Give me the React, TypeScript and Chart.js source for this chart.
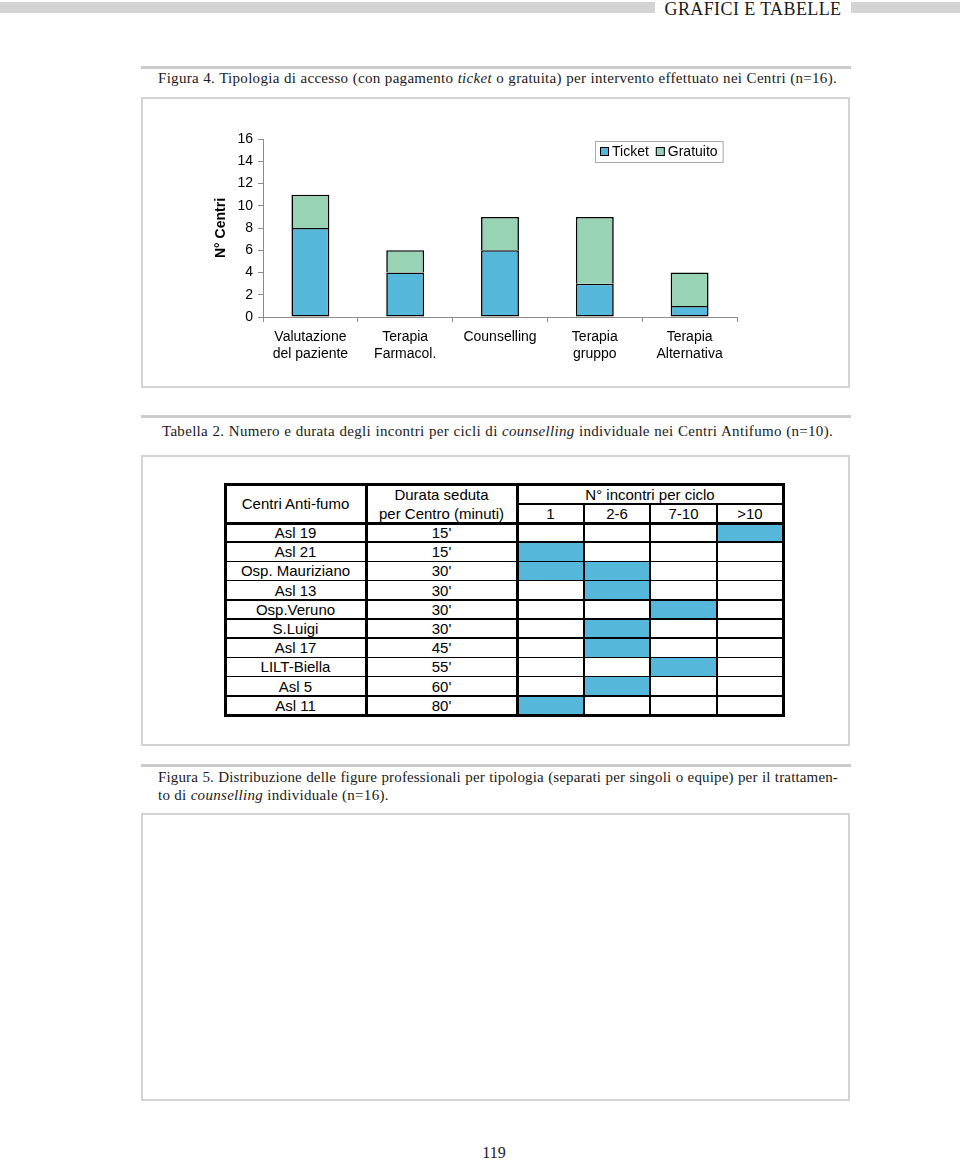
import React, { useEffect, useRef } from "react";
import { Chart, registerables } from "chart.js";

Chart.register(...registerables);

// ---- Figure 4 data ----
const categories: string[][] = [
  ["Valutazione", "del paziente"],
  ["Terapia", "Farmacol."],
  ["Counselling"],
  ["Terapia", "gruppo"],
  ["Terapia", "Alternativa"],
];
const seriesNames = ["Ticket", "Gratuito"];
const ticketValues = [8, 4, 6, 3, 1];
const gratuitoValues = [3, 2, 3, 6, 3];
const yAxisTitle = "N° Centri";
const yMin = 0;
const yMax = 16;
const yStep = 2;

// ---- Tabella 2 data ----
const centres = [
  "Asl 19",
  "Asl 21",
  "Osp. Mauriziano",
  "Asl 13",
  "Osp.Veruno",
  "S.Luigi",
  "Asl 17",
  "LILT-Biella",
  "Asl 5",
  "Asl 11",
];
const durations = ["15'", "15'", "30'", "30'", "30'", "30'", "45'", "55'", "60'", "80'"];
const cycleBands = ["1", "2-6", "7-10", ">10"];
const cycleMarks: number[][] = [[3], [0], [0, 1], [1], [2], [1], [1], [2], [1], [0]];

// ---- captions ----
const headerText = "GRAFICI E TABELLE";
const pageNumber = "119";

const BLUE = "#55b8db";
const GREEN = "#98d3b6";
const SANS = "'Liberation Sans', Arial, sans-serif";
const SERIF = "'Liberation Serif', 'Times New Roman', serif";

const boxLegend = {
  id: "boxLegend",
  afterDraw(chart: any) {
    const ctx = chart.ctx as CanvasRenderingContext2D;
    ctx.save();
    ctx.font = `14px ${SANS}`;
    const colors = [BLUE, GREEN];
    const x0 = 454;
    const y0 = 44;
    const h = 21;
    let w = 5;
    seriesNames.forEach((n, i) => {
      w += 9 + 3 + ctx.measureText(n).width + (i < seriesNames.length - 1 ? 7 : 5);
    });
    ctx.fillStyle = "#ffffff";
    ctx.fillRect(x0, y0, w, h);
    ctx.strokeStyle = "#a8a8a8";
    ctx.lineWidth = 1;
    ctx.strokeRect(x0 + 0.5, y0 + 0.5, w, h);
    let x = x0 + 5;
    const cy = y0 + h / 2 + 0.5;
    seriesNames.forEach((n, i) => {
      ctx.fillStyle = colors[i];
      ctx.fillRect(x, cy - 5, 9, 9);
      ctx.strokeStyle = "#000";
      ctx.strokeRect(x + 0.5, cy - 4.5, 8, 8);
      x += 12;
      ctx.fillStyle = "#000";
      ctx.textBaseline = "middle";
      ctx.textAlign = "left";
      ctx.fillText(n, x, cy);
      x += ctx.measureText(n).width + 7;
    });
    ctx.restore();
  },
};

function BarChart() {
  const ref = useRef<HTMLCanvasElement | null>(null);
  useEffect(() => {
    if (!ref.current) return;
    const chart = new Chart(ref.current, {
      type: "bar",
      data: {
        labels: categories,
        datasets: [
          {
            label: seriesNames[0],
            data: ticketValues,
            backgroundColor: BLUE,
            borderColor: "#000",
            borderWidth: { left: 1.6, right: 1.6, top: 1.6, bottom: 1.6 },
            borderSkipped: false,
          },
          {
            label: seriesNames[1],
            data: gratuitoValues,
            backgroundColor: GREEN,
            borderColor: "#000",
            borderWidth: { left: 1.6, right: 1.6, top: 1.6, bottom: 0 },
            borderSkipped: false,
          },
        ],
      },
      options: {
        responsive: false,
        animation: false,
        events: [],
        layout: { padding: { left: 60, right: 113, top: 42, bottom: 0 } },
        datasets: { bar: { categoryPercentage: 1, barPercentage: 0.4 } },
        plugins: { legend: { display: false }, tooltip: { enabled: false } },
        scales: {
          x: {
            stacked: true,
            offset: true,
            afterFit: (s: any) => {
              s.height = 71;
            },
            grid: {
              display: true,
              offset: true,
              drawOnChartArea: false,
              tickLength: 5,
              color: "#8c8c8c",
            },
            border: { display: true, color: "#8c8c8c", width: 1 },
            ticks: {
              color: "#000",
              font: { family: SANS, size: 14 },
              padding: 6.6,
              maxRotation: 0,
              autoSkip: false,
            },
          },
          y: {
            stacked: true,
            min: yMin,
            max: yMax,
            afterFit: (s: any) => {
              s.width = 62;
            },
            grid: {
              display: true,
              drawOnChartArea: false,
              tickLength: 5,
              color: "#8c8c8c",
            },
            border: { display: true, color: "#8c8c8c", width: 1 },
            ticks: {
              stepSize: yStep,
              color: "#000",
              font: { family: SANS, size: 14 },
              padding: 5,
            },
            title: {
              display: true,
              text: yAxisTitle,
              color: "#000",
              font: { family: SANS, size: 14, weight: "bold" },
              padding: { top: 11.6, bottom: 0 },
            },
          },
        },
      },
      plugins: [boxLegend],
    } as any);
    return () => chart.destroy();
  }, []);
  return (
    <canvas
      ref={ref}
      width={709}
      height={291}
      style={{ position: "absolute", left: 141, top: 97, width: 709, height: 291 }}
    />
  );
}

function DataTable() {
  const colX = [225, 366, 517, 584, 650, 717, 783];
  const top = 484;
  const midHead = 504;
  const headBottom = 523;
  const rowH = 19.2;
  const rowY = (i: number) => headBottom + i * rowH;
  const bottom = rowY(centres.length);
  const els: React.ReactNode[] = [];
  let k = 0;
  const hline = (x1: number, x2: number, y: number, t: number) =>
    els.push(
      <div
        key={k++}
        style={{ position: "absolute", left: x1 - t / 2, top: y - t / 2, width: x2 - x1 + t, height: t, background: "#000" }}
      />
    );
  const vline = (x: number, y1: number, y2: number, t: number) =>
    els.push(
      <div
        key={k++}
        style={{ position: "absolute", left: x - t / 2, top: y1 - t / 2, width: t, height: y2 - y1 + t, background: "#000" }}
      />
    );
  const text = (x1: number, x2: number, y1: number, y2: number, s: string) =>
    els.push(
      <div
        key={k++}
        style={{
          position: "absolute",
          left: x1,
          top: y1,
          width: x2 - x1,
          height: y2 - y1,
          display: "flex",
          alignItems: "center",
          justifyContent: "center",
          font: `15px ${SANS}`,
          color: "#000",
          whiteSpace: "nowrap",
        }}
      >
        {s}
      </div>
    );

  // blue cells
  cycleMarks.forEach((marks, r) => {
    marks.forEach((b) => {
      els.push(
        <div
          key={k++}
          style={{
            position: "absolute",
            left: colX[2 + b],
            top: rowY(r),
            width: colX[3 + b] - colX[2 + b],
            height: rowH,
            background: BLUE,
          }}
        />
      );
    });
  });

  // texts
  text(colX[0], colX[1], top, headBottom, "Centri Anti-fumo");
  text(colX[1], colX[2], top, midHead, "Durata seduta");
  text(colX[1], colX[2], midHead, headBottom, "per Centro (minuti)");
  text(colX[2], colX[6], top, midHead, "N° incontri per ciclo");
  cycleBands.forEach((b, i) => text(colX[2 + i], colX[3 + i], midHead, headBottom, b));
  centres.forEach((c, r) => {
    text(colX[0], colX[1], rowY(r), rowY(r + 1), c);
    text(colX[1], colX[2], rowY(r), rowY(r + 1), durations[r]);
  });

  // row lines
  for (let r = 1; r < centres.length; r++) hline(colX[0], colX[6], rowY(r), 1.6);
  hline(colX[2], colX[6], midHead, 2);
  hline(colX[0], colX[6], headBottom, 3);
  hline(colX[0], colX[6], top, 3);
  hline(colX[0], colX[6], bottom, 3);
  vline(colX[0], top, bottom, 3);
  vline(colX[1], top, bottom, 3);
  vline(colX[2], top, bottom, 3);
  vline(colX[6], top, bottom, 3);
  for (let c = 3; c < 6; c++) vline(colX[c], midHead, bottom, 2.4);

  return <>{els}</>;
}

export default function App() {
  const rule = (y: number) => (
    <div style={{ position: "absolute", left: 141, top: y, width: 710, height: 3, background: "#cbcbcb" }} />
  );
  const box = (y: number, h: number) => (
    <div
      style={{
        position: "absolute",
        left: 141,
        top: y,
        width: 709,
        height: h,
        border: "2px solid #d3d3d3",
        boxSizing: "border-box",
      }}
    />
  );
  const caption = (
    x: number,
    y: number,
    w: number,
    content: React.ReactNode,
    justify = true,
    spacing = 0.3
  ) => (
    <div
      style={{
        position: "absolute",
        left: x,
        top: y,
        width: w,
        font: `15px ${SERIF}`,
        letterSpacing: `${spacing}px`,
        color: "#1a1a1a",
        whiteSpace: "nowrap",
        textAlign: justify ? "justify" : "left",
        textAlignLast: justify ? "justify" : "left",
        lineHeight: "18px",
      }}
    >
      {content}
    </div>
  );
  return (
    <div
      style={{
        position: "absolute",
        left: 0,
        top: 0,
        width: 960,
        height: 1161,
        background: "#fff",
        overflow: "hidden",
      }}
    >
      {/* header */}
      <div style={{ position: "absolute", left: 0, top: 2, width: 655, height: 11, background: "#d4d4d4" }} />
      <div style={{ position: "absolute", left: 851, top: 2, width: 109, height: 11, background: "#d4d4d4" }} />
      <div
        style={{
          position: "absolute",
          left: 655,
          top: 1,
          width: 196,
          textAlign: "center",
          font: `18px ${SERIF}`,
          letterSpacing: "0.4px",
          color: "#1a1a1a",
          lineHeight: "16px",
          whiteSpace: "nowrap",
        }}
      >
        {headerText}
      </div>

      {rule(66)}
      {caption(
        158,
        69,
        679,
        <>
          Figura 4. Tipologia di accesso (con pagamento <i>ticket</i> o gratuita) per intervento effettuato nei Centri (n=16).
        </>
      )}
      {box(97, 291)}
      <BarChart />

      {rule(415)}
      {caption(
        162,
        422,
        671,
        <>
          Tabella 2. Numero e durata degli incontri per cicli di <i>counselling</i> individuale nei Centri Antifumo (n=10).
        </>
      )}
      {box(455, 291)}
      <DataTable />

      {rule(764)}
      {caption(
        158,
        768,
        680,
        <>
          Figura 5. Distribuzione delle figure professionali per tipologia (separati per singoli o equipe) per il trattamen-
        </>,
        true,
        0.15
      )}
      {caption(
        158,
        786,
        400,
        <>
          to di <i>counselling</i> individuale (n=16).
        </>,
        false
      )}
      {box(813, 288)}

      <div
        style={{
          position: "absolute",
          left: 444,
          top: 1143,
          width: 100,
          textAlign: "center",
          font: `16px ${SERIF}`,
          color: "#1a1a1a",
          lineHeight: "20px",
        }}
      >
        {pageNumber}
      </div>
    </div>
  );
}
